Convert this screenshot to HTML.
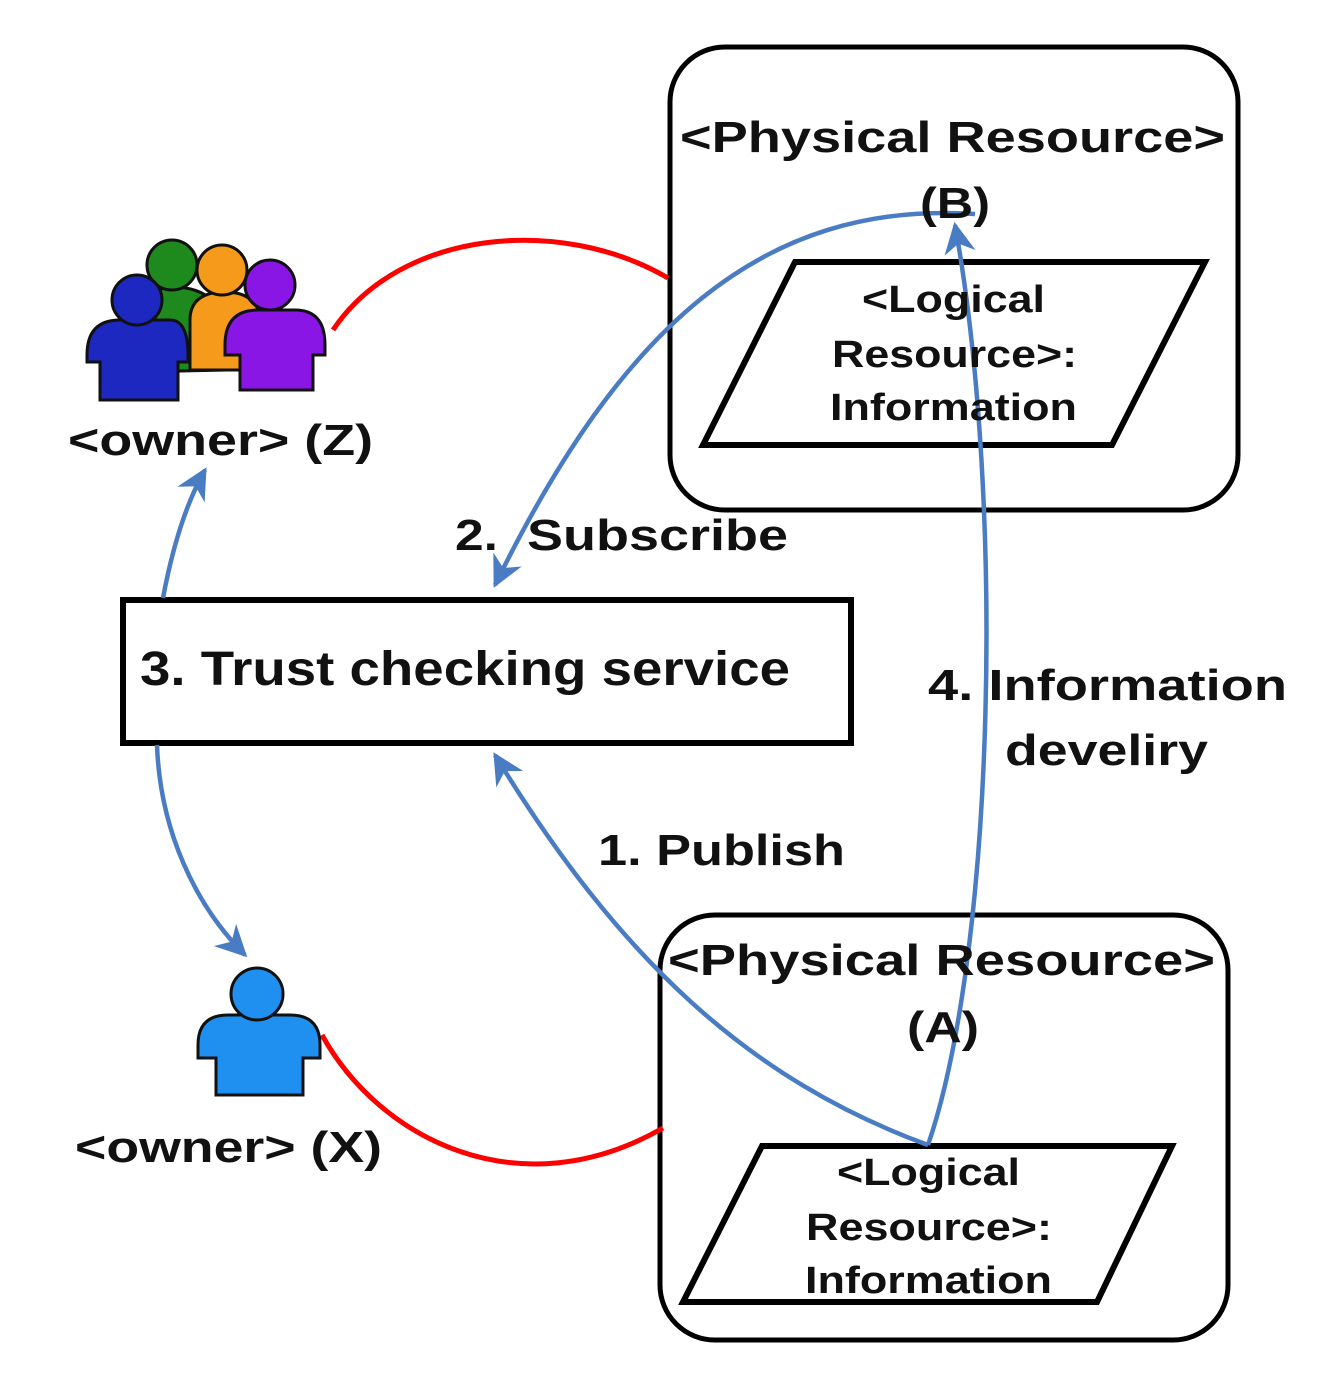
<!DOCTYPE html>
<html><head><style>body{margin:0;background:#fff}svg{display:block}text{font-family:"Liberation Sans",sans-serif;font-weight:bold;fill:#111}</style></head>
<body>
<svg width="1341" height="1389" viewBox="0 0 1341 1389" xmlns="http://www.w3.org/2000/svg">
<defs>
<marker id="ar" viewBox="0 0 20 20" refX="18" refY="10" markerWidth="7" markerHeight="7" orient="auto" markerUnits="strokeWidth">
<path d="M0,0 L20,10 L0,20 L6,10 Z" fill="#4a7cc4"/></marker>
</defs>
<rect x="670" y="47" width="568" height="463" rx="55" fill="none" stroke="#000" stroke-width="5"/>
<rect x="660" y="915" width="568" height="425" rx="55" fill="none" stroke="#000" stroke-width="5"/>
<rect x="123" y="600" width="728" height="143" fill="none" stroke="#000" stroke-width="6"/>
<polygon points="795,262 1205,262 1112,445 703,445" fill="none" stroke="#000" stroke-width="6"/>
<polygon points="762,1146 1172,1146 1097,1302 683,1302" fill="none" stroke="#000" stroke-width="6"/>
<path d="M333,330 C400,230 560,215 668,278" fill="none" stroke="#f00" stroke-width="5"/>
<path d="M322,1035 C380,1140 520,1210 663,1128" fill="none" stroke="#f00" stroke-width="5"/>
<g fill="none" stroke="#4a7cc4" stroke-width="4.5">
<path d="M975,214 C760,200 620,330 495,585" marker-end="url(#ar)"/>
<path d="M928,1145 C995,950 1005,500 955,225" marker-end="url(#ar)"/>
<path d="M928,1145 C750,1080 620,960 495,755" marker-end="url(#ar)"/>
<path d="M163,598 C172,550 185,505 205,470" marker-end="url(#ar)"/>
<path d="M157,745 C160,830 195,905 245,955" marker-end="url(#ar)"/>
</g>
<g stroke="#111" stroke-width="3">
<path d="M135,372 Q135,287 172,287 Q225,287 225,340 L225,370 Z" fill="#1e8a1e"/>
<circle cx="172" cy="265" r="25" fill="#1e8a1e"/>
<path d="M190,370 L190,320 Q190,292 225,292 Q262,292 262,330 L262,370 Z" fill="#f59a1a"/>
<circle cx="222" cy="270" r="25" fill="#f59a1a"/>
<path d="M87,355 Q87,320 120,320 L170,320 Q188,320 188,355 L188,362 L178,362 L178,400 L100,400 L100,362 L87,362 Z" fill="#1c28c0"/>
<circle cx="137" cy="300" r="25" fill="#1c28c0"/>
<path d="M225,345 Q225,310 258,310 L295,310 Q325,310 325,345 L325,355 L313,355 L313,390 L240,390 L240,355 L225,355 Z" fill="#8a16e6"/>
<circle cx="270" cy="285" r="25" fill="#8a16e6"/>
<path d="M198,1045 Q198,1015 228,1015 L290,1015 Q320,1015 320,1045 L320,1058 L303,1058 L303,1095 L216,1095 L216,1058 L198,1058 Z" fill="#2090f0"/>
<circle cx="257" cy="994" r="26" fill="#2090f0"/>
</g>
<g font-size="44" lengthAdjust="spacingAndGlyphs">
<text x="680" y="152" textLength="545" lengthAdjust="spacingAndGlyphs">&lt;Physical Resource&gt;</text>
<text x="920" y="218" textLength="70" lengthAdjust="spacingAndGlyphs">(B)</text>
<text x="668" y="975" textLength="547" lengthAdjust="spacingAndGlyphs">&lt;Physical Resource&gt;</text>
<text x="907" y="1042" textLength="72" lengthAdjust="spacingAndGlyphs">(A)</text>
</g>
<g font-size="38">
<text x="862" y="312" textLength="183" lengthAdjust="spacingAndGlyphs">&lt;Logical</text>
<text x="832" y="367" textLength="245" lengthAdjust="spacingAndGlyphs">Resource&gt;:</text>
<text x="830" y="420" textLength="247" lengthAdjust="spacingAndGlyphs">Information</text>
<text x="837" y="1185" textLength="183" lengthAdjust="spacingAndGlyphs">&lt;Logical</text>
<text x="806" y="1240" textLength="246" lengthAdjust="spacingAndGlyphs">Resource&gt;:</text>
<text x="805" y="1293" textLength="247" lengthAdjust="spacingAndGlyphs">Information</text>
</g>
<g font-size="44">
<text x="68" y="455" textLength="305" lengthAdjust="spacingAndGlyphs">&lt;owner&gt; (Z)</text>
<text x="75" y="1162" textLength="307" lengthAdjust="spacingAndGlyphs">&lt;owner&gt; (X)</text>
<text x="455" y="550" textLength="43" lengthAdjust="spacingAndGlyphs">2.</text>
<text x="527" y="550" textLength="261" lengthAdjust="spacingAndGlyphs">Subscribe</text>
<text x="598" y="865" textLength="247" lengthAdjust="spacingAndGlyphs">1. Publish</text>
<text x="928" y="700" textLength="359" lengthAdjust="spacingAndGlyphs">4. Information</text>
<text x="1005" y="765" textLength="203" lengthAdjust="spacingAndGlyphs">develiry</text>
</g>
<text x="140" y="685" font-size="48" textLength="650" lengthAdjust="spacingAndGlyphs">3. Trust checking service</text>
</svg>
</body></html>
